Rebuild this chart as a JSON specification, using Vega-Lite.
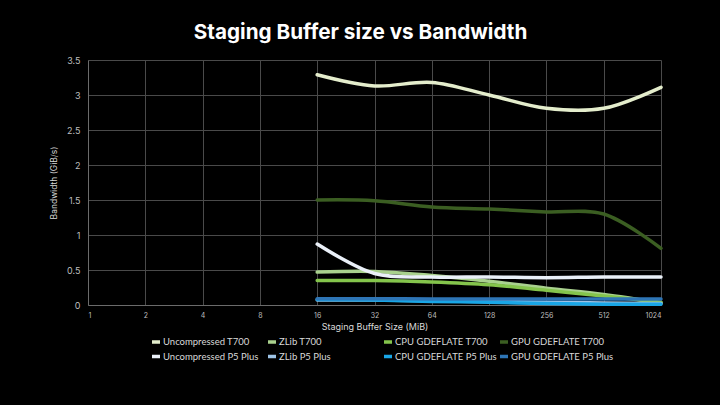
{
  "$schema": "https://vega.github.io/schema/vega-lite/v6.json",
  "autosize": "none",
  "width": 573,
  "height": 245,
  "padding": {"left": 88, "top": 60, "right": 59, "bottom": 100},
  "background": "#000000",
  "title": {
    "text": "Staging Buffer size vs Bandwidth",
    "font": "Inter",
    "fontSize": 20.7,
    "fontWeight": "bold",
    "color": "#ffffff",
    "anchor": "middle",
    "frame": "group",
    "dx": -14,
    "offset": 12
  },
  "config": {
    "view": {"stroke": null},
    "font": "Inter"
  },
  "data": {
    "values": [
      {"size": 16, "series": "Uncompressed T700", "bw": 3.29},
      {"size": 32, "series": "Uncompressed T700", "bw": 3.13},
      {"size": 64, "series": "Uncompressed T700", "bw": 3.18},
      {"size": 128, "series": "Uncompressed T700", "bw": 3.0},
      {"size": 256, "series": "Uncompressed T700", "bw": 2.81},
      {"size": 512, "series": "Uncompressed T700", "bw": 2.81},
      {"size": 1024, "series": "Uncompressed T700", "bw": 3.11},
      {"size": 16, "series": "ZLib T700", "bw": 0.47},
      {"size": 32, "series": "ZLib T700", "bw": 0.48},
      {"size": 64, "series": "ZLib T700", "bw": 0.42},
      {"size": 128, "series": "ZLib T700", "bw": 0.34},
      {"size": 256, "series": "ZLib T700", "bw": 0.24},
      {"size": 512, "series": "ZLib T700", "bw": 0.15},
      {"size": 1024, "series": "ZLib T700", "bw": 0.03},
      {"size": 16, "series": "CPU GDEFLATE T700", "bw": 0.35},
      {"size": 32, "series": "CPU GDEFLATE T700", "bw": 0.35},
      {"size": 64, "series": "CPU GDEFLATE T700", "bw": 0.33},
      {"size": 128, "series": "CPU GDEFLATE T700", "bw": 0.29},
      {"size": 256, "series": "CPU GDEFLATE T700", "bw": 0.21},
      {"size": 512, "series": "CPU GDEFLATE T700", "bw": 0.13},
      {"size": 1024, "series": "CPU GDEFLATE T700", "bw": 0.04},
      {"size": 16, "series": "GPU GDEFLATE T700", "bw": 1.5},
      {"size": 32, "series": "GPU GDEFLATE T700", "bw": 1.49},
      {"size": 64, "series": "GPU GDEFLATE T700", "bw": 1.4},
      {"size": 128, "series": "GPU GDEFLATE T700", "bw": 1.37},
      {"size": 256, "series": "GPU GDEFLATE T700", "bw": 1.33},
      {"size": 512, "series": "GPU GDEFLATE T700", "bw": 1.3},
      {"size": 1024, "series": "GPU GDEFLATE T700", "bw": 0.81},
      {"size": 16, "series": "Uncompressed P5 Plus", "bw": 0.87},
      {"size": 32, "series": "Uncompressed P5 Plus", "bw": 0.45},
      {"size": 64, "series": "Uncompressed P5 Plus", "bw": 0.4},
      {"size": 128, "series": "Uncompressed P5 Plus", "bw": 0.4},
      {"size": 256, "series": "Uncompressed P5 Plus", "bw": 0.39},
      {"size": 512, "series": "Uncompressed P5 Plus", "bw": 0.4},
      {"size": 1024, "series": "Uncompressed P5 Plus", "bw": 0.4},
      {"size": 16, "series": "ZLib P5 Plus", "bw": 0.07},
      {"size": 32, "series": "ZLib P5 Plus", "bw": 0.07},
      {"size": 64, "series": "ZLib P5 Plus", "bw": 0.06},
      {"size": 128, "series": "ZLib P5 Plus", "bw": 0.05},
      {"size": 256, "series": "ZLib P5 Plus", "bw": 0.04},
      {"size": 512, "series": "ZLib P5 Plus", "bw": 0.03},
      {"size": 1024, "series": "ZLib P5 Plus", "bw": 0.02},
      {"size": 16, "series": "CPU GDEFLATE P5 Plus", "bw": 0.08},
      {"size": 32, "series": "CPU GDEFLATE P5 Plus", "bw": 0.07},
      {"size": 64, "series": "CPU GDEFLATE P5 Plus", "bw": 0.05},
      {"size": 128, "series": "CPU GDEFLATE P5 Plus", "bw": 0.04},
      {"size": 256, "series": "CPU GDEFLATE P5 Plus", "bw": 0.02},
      {"size": 512, "series": "CPU GDEFLATE P5 Plus", "bw": 0.01},
      {"size": 1024, "series": "CPU GDEFLATE P5 Plus", "bw": 0.01},
      {"size": 16, "series": "GPU GDEFLATE P5 Plus", "bw": 0.09},
      {"size": 32, "series": "GPU GDEFLATE P5 Plus", "bw": 0.09},
      {"size": 64, "series": "GPU GDEFLATE P5 Plus", "bw": 0.085},
      {"size": 128, "series": "GPU GDEFLATE P5 Plus", "bw": 0.085},
      {"size": 256, "series": "GPU GDEFLATE P5 Plus", "bw": 0.085},
      {"size": 512, "series": "GPU GDEFLATE P5 Plus", "bw": 0.085},
      {"size": 1024, "series": "GPU GDEFLATE P5 Plus", "bw": 0.085}
    ]
  },
  "mark": {"type": "line", "interpolate": "catmull-rom", "strokeWidth": 3.5, "strokeCap": "round", "strokeJoin": "round"},
  "encoding": {
    "x": {
      "field": "size",
      "type": "quantitative",
      "scale": {"type": "log", "base": 2, "domain": [1, 1024], "nice": false},
      "axis": {
        "title": "Staging Buffer Size (MiB)",
        "values": [1, 2, 4, 8, 16, 32, 64, 128, 256, 512, 1024],
        "format": "d",
        "labelFontSize": 7,
        "labelColor": "#bfbfbf",
        "labelPadding": 6,
        "ticks": false,
        "domainColor": "#6b6b6b",
        "gridColor": "#4a4a4a",
        "gridWidth": 1,
        "titleFontSize": 9,
        "titleFontWeight": "normal",
        "titleColor": "#d9d9d9",
        "titlePadding": 4
      }
    },
    "y": {
      "field": "bw",
      "type": "quantitative",
      "scale": {"domain": [0, 3.5], "nice": false},
      "axis": {
        "title": "Bandwidth (GiB/s)",
        "values": [0, 0.5, 1, 1.5, 2, 2.5, 3, 3.5],
        "format": "~g",
        "labelFontSize": 9,
        "labelColor": "#bfbfbf",
        "labelPadding": 8,
        "ticks": false,
        "domainColor": "#6b6b6b",
        "gridColor": "#4a4a4a",
        "gridWidth": 1,
        "titleFontSize": 8.5,
        "titleFontWeight": "normal",
        "titleColor": "#d9d9d9",
        "titlePadding": 8
      }
    },
    "color": {
      "field": "series",
      "type": "nominal",
      "scale": {
        "domain": ["Uncompressed T700", "ZLib T700", "CPU GDEFLATE T700", "GPU GDEFLATE T700", "Uncompressed P5 Plus", "ZLib P5 Plus", "CPU GDEFLATE P5 Plus", "GPU GDEFLATE P5 Plus"],
        "range": ["#e4edcc", "#a9d18e", "#84c44c", "#3b5e22", "#eaf0f8", "#9dc3e6", "#19a6e6", "#2e75b6"]
      },
      "legend": {
        "title": null,
        "orient": "none",
        "legendX": 62,
        "legendY": 276,
        "direction": "horizontal",
        "columns": 4,
        "gridAlign": "all",
        "columnPadding": -5,
        "rowPadding": 0.5,
        "padding": 0,
        "labelFont": "Lato",
        "labelFontSize": 9.5,
        "labelColor": "#d9d9d9",
        "labelOffset": 1,
        "symbolType": "stroke",
        "symbolSize": 64,
        "symbolStrokeWidth": 3.5
      }
    }
  }
}
